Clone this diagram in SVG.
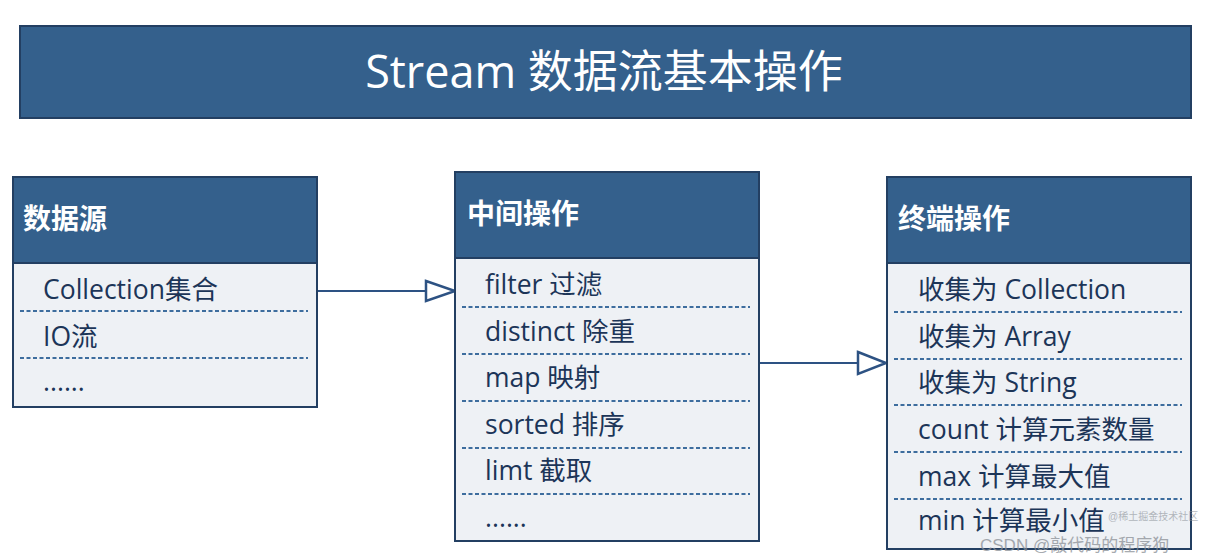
<svg xmlns="http://www.w3.org/2000/svg" width="1206" height="554" viewBox="0 0 1206 554">
<defs>
<style>
.hdr{fill:#34608c;stroke:#233f62;stroke-width:2}
.body{fill:#eef1f5;stroke:#233f62;stroke-width:2}
.ttl{font-family:"Open Sans","Noto Sans CJK SC",sans-serif;font-size:45px;fill:#ffffff}
.ht{font-family:"Noto Sans CJK SC",sans-serif;font-size:28px;font-weight:bold;fill:#ffffff}
.it{font-family:"Open Sans","Noto Sans CJK SC",sans-serif;font-size:26.5px;fill:#1c3558}
.dash{stroke:#3d6d9e;stroke-width:2;stroke-dasharray:4 2.5;fill:none}
.conn{stroke:#2d5283;stroke-width:2;fill:none}
.head{fill:#ffffff;stroke:#2d5283;stroke-width:2.5;stroke-linejoin:miter}
.wm{font-family:"Liberation Sans","Noto Sans CJK SC",sans-serif;fill:#8a8f96}
</style>
</defs>
<rect width="1206" height="554" fill="#ffffff"/>
<g id="title">
<rect x="20" y="26" width="1171" height="92" class="hdr"/>
<text x="604" y="88" text-anchor="middle" class="ttl">Stream 数据流基本操作</text>
</g>
<g id="connectors">
<line x1="317" y1="291" x2="428" y2="291" class="conn"/>
<polygon points="426,281 455,291 426,301" class="head"/>
<line x1="759" y1="363" x2="858" y2="363" class="conn"/>
<polygon points="858,352 886,363 858,374" class="head"/>
</g>
<g id="source">
<rect x="13" y="263" width="304" height="144" class="body"/>
<rect x="13" y="177" width="304" height="86" class="hdr"/>
<text x="23" y="229" class="ht">数据源</text>
<text x="43" y="299" class="it">Collection集合</text>
<line x1="20" y1="311" x2="308" y2="311" class="dash"/>
<text x="43" y="346" class="it">IO流</text>
<line x1="20" y1="358" x2="308" y2="358" class="dash"/>
<text x="43" y="391" class="it">......</text>
</g>
<g id="intermediate">
<rect x="455" y="258" width="304" height="283" class="body"/>
<rect x="455" y="172" width="304" height="86" class="hdr"/>
<text x="467" y="224" class="ht">中间操作</text>
<text x="485" y="294" class="it">filter 过滤</text>
<line x1="462" y1="307" x2="750" y2="307" class="dash"/>
<text x="485" y="341" class="it">distinct 除重</text>
<line x1="462" y1="354" x2="750" y2="354" class="dash"/>
<text x="485" y="387" class="it">map 映射</text>
<line x1="462" y1="401" x2="750" y2="401" class="dash"/>
<text x="485" y="434" class="it">sorted 排序</text>
<line x1="462" y1="448" x2="750" y2="448" class="dash"/>
<text x="485" y="480" class="it">limt 截取</text>
<line x1="462" y1="494" x2="750" y2="494" class="dash"/>
<text x="485" y="527" class="it">......</text>
</g>
<g id="terminal">
<rect x="887" y="263" width="304" height="286" class="body"/>
<rect x="887" y="177" width="304" height="86" class="hdr"/>
<text x="898" y="229" class="ht">终端操作</text>
<text x="918" y="299" class="it">收集为 Collection</text>
<line x1="894" y1="312" x2="1182" y2="312" class="dash"/>
<text x="918" y="346" class="it">收集为 Array</text>
<line x1="894" y1="359" x2="1182" y2="359" class="dash"/>
<text x="918" y="392" class="it">收集为 String</text>
<line x1="894" y1="405" x2="1182" y2="405" class="dash"/>
<text x="918" y="439" class="it">count 计算元素数量</text>
<line x1="894" y1="452" x2="1182" y2="452" class="dash"/>
<text x="918" y="486" class="it">max 计算最大值</text>
<line x1="894" y1="499" x2="1182" y2="499" class="dash"/>
<text x="918" y="530" class="it">min 计算最小值</text>
</g>
<g id="watermark">
<text x="1108" y="520" class="wm" style="font-size:10px;opacity:0.6">@稀土掘金技术社区</text>
<text x="980" y="551" class="wm" style="font-size:17px;opacity:0.75">CSDN @敲代码的程序狗</text>
</g>
</svg>
